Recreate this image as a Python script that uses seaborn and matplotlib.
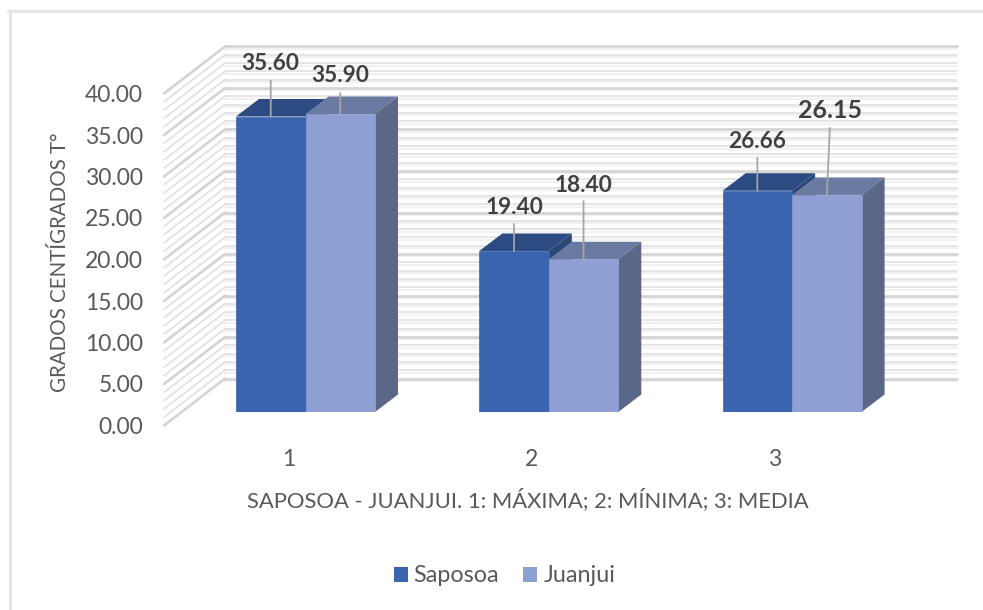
import numpy as np
import pandas as pd
import matplotlib
matplotlib.use('Agg')
import matplotlib.pyplot as plt
from matplotlib.lines import Line2D
from matplotlib.patches import Polygon, Rectangle
import seaborn as sns

categories = ['1', '2', '3']
saposoa = [35.60, 19.40, 26.66]
juanjui = [35.90, 18.40, 26.15]
series_names = ['Saposoa', 'Juanjui']
y_ticks = [0, 5, 10, 15, 20, 25, 30, 35, 40]
x_title = 'SAPOSOA - JUANJUI. 1: MÁXIMA; 2: MÍNIMA; 3: MEDIA'
y_title = 'GRADOS CENTÍGRADOS T°'

# colours for front, top and side of each box
front_cols = ['#3A64AD', '#8E9FD3']
top_cols = ['#2B4B82', '#6B7AA0']
side_cols = ['#2A4776', '#5A6787']

W, H = 983, 610
sns.set_theme(style='white')
plt.rcParams['font.family'] = ['Lato', 'DejaVu Sans']

df = pd.DataFrame({
    'cat': categories * 2,
    'val': saposoa + juanjui,
    'serie': [series_names[0]] * 3 + [series_names[1]] * 3,
})

fig = plt.figure(figsize=(W / 100, H / 100), dpi=100)
# frame of the picture: only top and left are visible
fig.add_artist(Line2D([9.5 / W, 9.5 / W], [0, 1 - 9.5 / H], color='#E4E4E4', lw=2.2))
fig.add_artist(Line2D([8 / W, 1], [1 - 11 / H, 1 - 11 / H], color='#E4E4E4', lw=2.2))

px_y = (425 - 93) / 40  # pixels for one degree

# --- walls, the y axis lives here
wall = fig.add_axes([164 / W, 1 - 425.5 / H, (957 - 164) / W, 332 / H])
wall.patch.set_alpha(0)
wall.set_xlim(164, 957)
wall.set_ylim(0, 40)
wall.spines[:].set_visible(False)
back_dy = 47 / px_y
for v in range(0, 41):
    major = v % 5 == 0
    col = '#D4D4D4' if major else '#DEDEDE'
    lw = 1.9 if major else 1.1
    wall.plot([164, 225], [v, v + back_dy], color=col, lw=lw, clip_on=False, zorder=1)
    wall.plot([225, 957], [v + back_dy] * 2, color=col, lw=lw, clip_on=False, zorder=1)
    # pale band under each line
    wall.plot([225, 957], [v + back_dy - 0.3] * 2, color='#F1F1F1', lw=1.6, clip_on=False, zorder=0)
wall.set_xticks([])
wall.set_yticks(y_ticks, [f'{t:.2f}' for t in y_ticks])
wall.tick_params(axis='y', length=0, pad=15, labelsize=16.5, labelcolor='#595959')
wall.set_ylabel(y_title, fontsize=14.8, color='#595959')
wall.yaxis.set_label_coords((70 - 164) / (957 - 164), (425 - 262) / 332)

# --- bars, on their own axes because the front plane sits above the tick zero
spacing = 243.3
ax = fig.add_axes([164 / W, 1 - 412 / H, (957 - 164) / W, 332 / H])
ax.patch.set_alpha(0)
sns.barplot(data=df, x='cat', y='val', hue='serie', order=categories, hue_order=series_names,
            palette=front_cols, width=139 / spacing, gap=0, saturation=1, legend=False, ax=ax, zorder=3)
ax.set_xlim((164 - 305.5) / spacing, (957 - 305.5) / spacing)
ax.set_ylim(0, 40)
ax.spines[:].set_visible(False)
ax.set_yticks([])
ax.set_ylabel('')
ax.set_xlabel('')
ax.set_xticks(np.arange(3) - 17 / spacing, categories)
ax.tick_params(axis='x', length=0, pad=27, labelsize=16.5, labelcolor='#595959')

dep_x = 23 / spacing
dep_y = 17.5 / px_y
for i, cont in enumerate(ax.containers):
    for bar in cont:
        x0, x1 = bar.get_x(), bar.get_x() + bar.get_width()
        h = bar.get_height()
        bar.set_edgecolor(front_cols[i])
        bar.set_linewidth(0.5)
        bar.set_zorder(3 + i)
        ax.add_patch(Polygon([(x0, h), (x1, h), (x1 + dep_x, h + dep_y), (x0 + dep_x, h + dep_y)],
                             fc=top_cols[i], ec='none', zorder=3 + i - 0.5, clip_on=False))
        ax.add_patch(Polygon([(x1, 0), (x1 + dep_x, dep_y), (x1 + dep_x, h + dep_y), (x1, h)],
                             fc=side_cols[i], ec='none', zorder=3 + i - 0.5, clip_on=False))

# --- data labels with leader lines: rise of the line and offset of the text, in pixels
line_rise = [[36, 27, 33], [21, 58, 67]]
line_lean = [[0, 0, 0], [0, 0, 3]]
text_rise = [[53, 43, 49], [39, 74, 84]]
text_size = [[16.3, 16.3, 16.3], [16.3, 16.3, 18]]
for i, cont in enumerate(ax.containers):
    for j, bar in enumerate(cont):
        xc = bar.get_x() + bar.get_width() / 2
        h = bar.get_height()
        ax.annotate('', xy=(xc, h), xytext=(line_lean[i][j], line_rise[i][j]), textcoords='offset pixels',
                    arrowprops=dict(arrowstyle='-', color='#A6A6A6', lw=1.3, shrinkA=0, shrinkB=0), zorder=8)
        ax.annotate(f'{h:.2f}', xy=(xc, h), xytext=(line_lean[i][j], text_rise[i][j]), textcoords='offset pixels',
                    ha='center', va='center', fontsize=text_size[i][j], fontweight='bold',
                    color='#404040', zorder=9)

fig.text(528 / W, 1 - 500 / H, x_title, ha='center', va='center', fontsize=15.8, color='#595959')

# --- legend
handles = [Rectangle((0, 0), 1, 1, fc=c, ec='none') for c in front_cols]
fig.legend(handles, series_names, loc='center', bbox_to_anchor=(504.5 / W, 1 - 576 / H), ncol=2, frameon=False,
           fontsize=16.8, labelcolor='#595959', handlelength=0.6, handleheight=0.6, handletextpad=0.26,
           columnspacing=1.03)

plt.savefig('out.png', dpi=100)
